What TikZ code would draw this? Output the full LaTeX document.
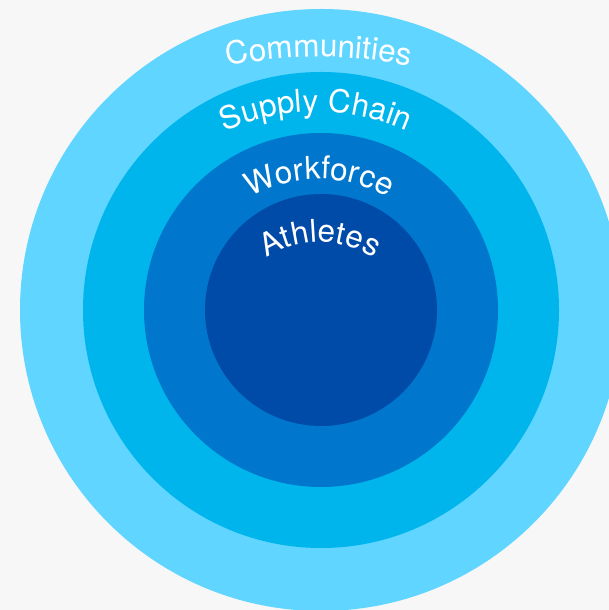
\documentclass[tikz,border=0pt]{standalone}
\usepackage{fontspec}
\setmainfont{TeX Gyre Heros}
\usetikzlibrary{calc,decorations.text}
\definecolor{pagegray}{HTML}{F7F7F7}
\definecolor{ringone}{HTML}{5FD5FF}
\definecolor{ringtwo}{HTML}{00B5EC}
\definecolor{ringthree}{HTML}{0077CC}
\definecolor{ringfour}{HTML}{004AA8}
\def\ringfont{\fontsize{31.5}{31.5}\selectfont\color{white}}
\def\arclabel(#1)(#2:#3:#4)#5{\path[decorate,decoration={text along path,text align=center,text={|\ringfont|#5}}] ($(#1)+({#4*cos(#2)},{#4*sin(#2)})$) arc (#2:#3:#4);}

\begin{document}
\begin{tikzpicture}[x=1pt,y=1pt]
			%%%%% START %%%%%
			
			\fill[pagegray] (0, 0) rectangle (609, 610);
			\clip (0, 0) rectangle (609, 610);
			
			\fill[ringone] (321, 300) circle (301);
			\fill[ringtwo] (321, 300) circle (238);
			\fill[ringthree] (321, 300) circle (177);
			\fill[ringfour] (321, 300) circle (116);
			
			\arclabel(319, 93)(125:55:460){Communities}
			\arclabel(316, 275)(140:40:223){Supply Chain}
			\arclabel(319, 292)(150:30:139){Workforce}
			\arclabel(320, 271)(160:20:97){Athletes}
			
			%%%%% END %%%%%
		\end{tikzpicture}
\end{document}
